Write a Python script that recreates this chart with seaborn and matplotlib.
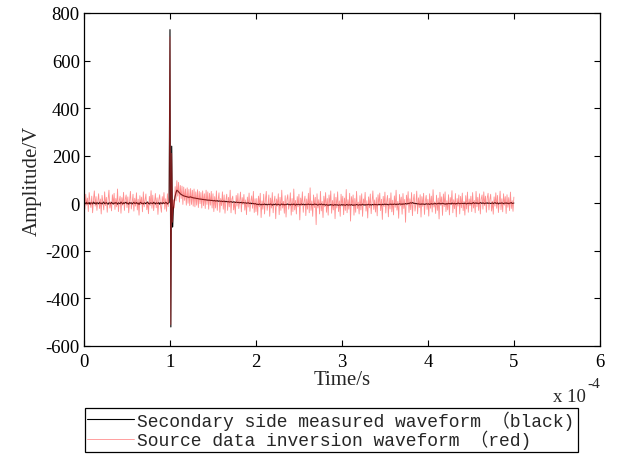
import numpy as np
import pandas as pd
import matplotlib
matplotlib.use("Agg")
import matplotlib.pyplot as plt
import seaborn as sns
from matplotlib.font_manager import FontProperties

# ---- data ----
t_start, t_end, n_samples = 0.0, 5e-4, 501   # sample times in seconds (step 1 us)

black_pre = [2, -3, 1, 4, -2, 0, 3, -4, 2, 1, -3, 5, -1, 2, -4, 3, 0, -2, 4, -1,
             1, -3, 2, 5, -2, 0, 3, -1, -4, 2, 1, -2, 4, 0, -3, 2, -1, 3, 1, -4,
             2, 0, -2, 5, 1, -3, 2, -1, 3, 4, -2, 1, -4, 3, 0, 2, -3, 1, 4, -1,
             0, 3, -2, 1, -5, 2, 4, -1, 0, -3, 2, 1, -2, 3, 5, -1, -3, 2, 0, 1,
             -2, 4, 1, -3, 2, 0, -1, 3, -4, 2, 1, -2, 3, 0, -1, 4, 2, -3, 1, 3]
black_spike = [730, -520, 240, -100]
black_bump = [-20, 10, 30, 45, 55, 52, 48, 44, 40, 37, 35, 33, 31, 30, 29, 28, 27, 26, 25, 26,
              27, 25, 24, 23, 22, 22, 21, 20, 20, 19, 18, 18, 17, 17, 16, 16, 15, 15, 14, 14,
              13, 13, 13, 12, 12, 12]
black_decay = [11, 10, 12, 9, 10, 11, 8, 10, 9, 8, 9, 7, 8, 9, 6, 8, 7, 6, 7, 5,
               6, 7, 5, 4, 6, 5, 3, 5, 4, 3, 4, 2, 3, 4, 1, 3, 2, 1, 2, 0,
               1, 2, 0, -1, 1, -2, 0, -1, -3, -1]
black_mid = [-3, -5, -4, -6, -3, -5, -7, -4, -6, -5, -3, -6, -4, -7, -5, -4, -6, -3, -5, -8,
             -4, -6, -5, -3, -7, -5, -4, -6, -8, -5, -3, -6, -4, -7, -5, -6, -4, -3, -6, -5,
             -7, -4, -5, -6, -3, -5, -8, -4, -6, -5, -4, -7, -5, -3, -6, -4, -5, -7, -4, -6,
             -5, -3, -6, -5, -4, -7, -5, -6, -3, -5, -4, -6, -8, -5, -4, -6, -3, -5, -7, -4,
             -6, -8, -5, -7, -9, -6, -8, -5, -7, -6, -9, -7, -5, -8, -6, -7, -9, -6, -8, -7,
             -5, -8, -6, -7, -9, -6, -5, -8, -7, -6, -8, -5, -7, -9, -6, -8, -7, -5, -6, -8,
             -7, -5, -8, -6, -4, -7, -6, -8, -5, -7, -6, -4, -7, -5, -8, -6, -5, -7, -4, -6,
             -5, -7, -6, -4, -6, -5, -7, -4, -6, -5, -3, -6, -4, -5, -7, -4, -5, -3, -6, -4,
             -5, -3, -4, -6, -3, -5, -4, -2, -4, -3, -5, -2, -4, -3, -1, -3, -2, 0, -2, 1,
             2, 0, 3, 1, -1, 0, -2, -1, -3, -2, -4, -3, -5, -2, -4, -3, -5, -4, -2, -3,
             -4, -2, -5, -3, -1, -4, -2, -3, 0, -2, -3, -1, -2, 1, -3, -1, -2, 0, -1, -3,
             -2, -4, -1, -3, 0, -2, -1, -3, 1, -1, -2, 0, -3, -1, -2, 1, 0, -2, -1, 0,
             -1, 0, -2, 1, -1, -3, 0, -1, 1, -2]
black_end = [0, -2, 1, 3, -1, 0, 2, -1, 1, -2, 0, 3, 1, -1, 2, 0, -2, 1, 0, 2,
             -1, 1, 0, -1, 0, 2, -2, 1, 3, 0, -1, 2, -3, 0, 1, -1, 2, 0, -2, 1,
             0, 2, -1, 1, -2, 0, 1, 3, -1, 0, 1]

red_pre = [12, -25, 38, -8, 22, -35, 45, 5, -18, 30, -40, 15, 52, -12, 28, -30, 8, 40, -22, 18,
           -45, 33, 2, -28, 48, -10, 25, -38, 14, 55, -20, 6, -32, 36, -5, 42, -26, 20, -15, 60,
           -35, 10, 30, -42, 24, -8, 46, -30, 16, 35, -18, 27, -40, 9, 50, -24, 3, 38, -33, 21,
           -12, 44, -28, 17, -50, 32, -6, 26, -36, 48, -15, 11, 39, -27, 4, -44, 29, -9, 53, -21,
           34, -31, 7, 41, -19, 23, -47, 15, 36, -11, -38, 28, -3, 45, -25, 19, -34, 40, -14, 31]
red_spike = [700, -510, 210, -80]
red_bump = [15, -20, 70, 10, 95, 30, 88, 5, 75, 20, 72, -5, 68, 12, 60, -8, 65, 0, 58, -10,
            62, -5, 55, -12, 60, -15, 48, -8, 57, -18, 50, -2, 45, -20, 52, -10, 40, -22, 55, -5,
            48, -25, 42, -8, 50, -20]
red_decay = [40, -35, 28, -20, 52, -30, 15, 44, -38, 20, -10, 48, -25, 35, -42, 12, 38, -30, 25, -15,
             55, -40, 18, 30, -28, 6, -45, 33, -12, 41, -22, 9, 47, -36, 24, -5, 37, -29, 14, -48,
             26, -16, 43, -34, 8, 31, -21, 50, -39, 19]
red_mid = [-35, 20, -50, 30, -15, 42, -60, 10, -25, 38, -45, 15, 50, -30, -8, 35, -55, 22, -20, 45,
           -40, 5, 30, -65, 18, -12, 40, -48, 25, -30, 55, -20, 8, -42, 32, -58, 15, 36, -25, -5,
           44, -50, 20, -35, 60, -28, 12, -45, 28, -15, 38, -70, 22, -10, 48, -38, 5, 30, -52, 18,
           -25, 42, -40, 65, -30, 10, -55, 35, -18, 25, -90, 40, -20, 15, -45, 50, -32, 8, -60, 30,
           -15, 45, -38, 20, -50, 35, -8, 52, -42, 12, -28, 40, -65, 25, -20, 48, -35, 10, -55, 38,
           -12, 30, -48, 22, -30, 58, -40, 15, -25, 42, -75, 28, -10, 35, -50, 20, -38, 50, -22, 5,
           -45, 32, -28, 40, -55, 18, -6, 46, -33, 11, -62, 27, -19, 39, -44, 3, 52, -26, 14, -37,
           24, -53, 36, -9, 43, -31, 17, -68, 29, -14, 47, -41, 6, 33, -57, 21, -24, 44, -36, 13,
           -49, 31, -17, 55, -29, 8, -63, 37, -11, 26, -46, 41, -22, 16, -80, 34, -7, 49, -39, 19,
           -27, 45, -52, 12, 38, -33, -4, 51, -44, 23, -18, 36, -58, 28, -13, 42, -47, 9, 33, -26,
           17, -54, 40, -21, 30, -37, 57, -16, 6, -43, 34, -30, 22, -66, 46, -9, 27, -51, 39, -14,
           48, -35, 11, -28, 36, -49, 24, -6, 53, -40, 15, -23, 41, -57, 20, -12, 35, -45, 29, -19,
           43, -31, 8, -50, 32, -24, 47, -38, 18, -10]
red_end = [30, -35, 45, -20, 12, -40, 50, -15, 25, -30, 40, -45, 18, 35, -25, 48, -10, 30, -38, 22,
           42, -28, 15, 38, -33, 9, -46, 27, -12, 44, -21, 33, -39, 5, 51, -27, 19, -36, 40, -8,
           28, -43, 36, -17, 24, -31, 47, -22, 11, -34, 26]

xtick_vals = [0, 1, 2, 3, 4, 5, 6]
ytick_vals = [-600, -400, -200, 0, 200, 400, 600, 800]
label_black = "Secondary side measured waveform （black)"
label_red = "Source data inversion waveform （red)"

black = black_pre + black_spike + black_bump + black_decay + black_mid + black_end
red = red_pre + red_spike + red_bump + red_decay + red_mid + red_end
t = np.linspace(t_start, t_end, n_samples)
df = pd.DataFrame({"t": t, "black": black, "red": red})

# ---- style ----
sns.set_style("ticks")
plt.rcParams["font.family"] = ["Liberation Serif", "DejaVu Serif"]

fig = plt.figure(figsize=(6.2, 4.6), dpi=100)
ax = fig.add_axes([0.1355, 0.2457, 0.832, 0.7239])

sns.lineplot(data=df, x="t", y="black", color="black", lw=0.8, ax=ax,
             sort=False, estimator=None, label=label_black)
sns.lineplot(data=df, x="t", y="red", color=(1.0, 0.2, 0.2), alpha=0.55, lw=0.6, ax=ax,
             sort=False, estimator=None, label=label_red)

ax.set_xlim(0, 6e-4)
ax.set_ylim(-600, 800)
ax.set_xticks([v * 1e-4 for v in xtick_vals])
ax.set_xticklabels([str(v) for v in xtick_vals])
ax.set_yticks(ytick_vals)
ax.set_yticklabels([str(v) for v in ytick_vals])
ax.tick_params(direction="in", top=True, right=True, length=4, width=0.8,
               labelsize=13.5, colors="black")
ax.tick_params(axis="x", pad=5)
ax.tick_params(axis="y", pad=3)
for s in ax.spines.values():
    s.set_visible(True)
    s.set_linewidth(0.9)
    s.set_color("black")

ax.set_xlabel("Time/s", fontsize=15, labelpad=0)
ax.set_ylabel("Amplitude/V", fontsize=15, labelpad=3)

fig.text(0.892, 0.126, "x 10", fontsize=13.5, ha="left", va="baseline")
fig.text(0.947, 0.157, "-4", fontsize=11, ha="left", va="baseline")

ax.get_legend().remove()
handles, labels = ax.get_legend_handles_labels()
leg = fig.legend(handles, labels, loc="lower left",
                 bbox_to_anchor=(0.137, 0.016, 0.795, 0.098), mode="expand",
                 prop=FontProperties(family=["Liberation Mono", "Noto Sans CJK SC"], size=13),
                 frameon=True, fancybox=False, edgecolor="black", framealpha=1,
                 borderpad=0.12, labelspacing=0.02, handlelength=2.6, handletextpad=0.15,
                 borderaxespad=0)
leg.get_frame().set_linewidth(0.9)
leg_lines = leg.get_lines()
leg_lines[0].set_alpha(1)
leg_lines[1].set_alpha(0.55)

fig.savefig("out.png", dpi=100)
